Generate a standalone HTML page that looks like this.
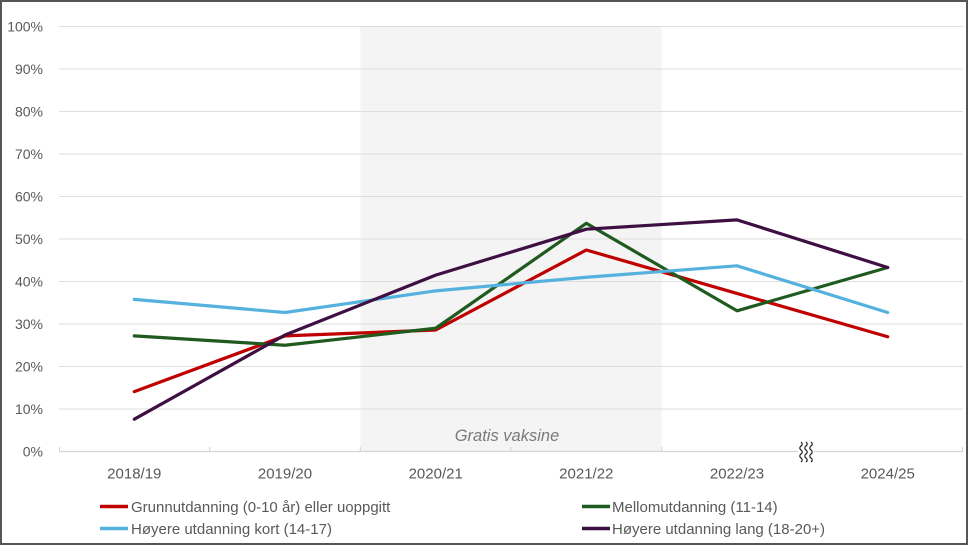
<!DOCTYPE html>
<html><head><meta charset="utf-8"><style>
html,body{margin:0;padding:0;background:#fff;}
svg{display:block;}
text{font-family:"Liberation Sans",sans-serif;fill:#595959;}
</style></head><body>
<svg width="970" height="546" viewBox="0 0 970 546" xmlns="http://www.w3.org/2000/svg">
<rect x="0" y="0" width="970" height="546" fill="#fff"/>
<!-- shaded band -->
<rect x="360.3" y="26.5" width="301.4" height="425" fill="#f4f4f4"/>
<!-- gridlines -->
<g stroke="#dedede" stroke-width="1">
<line x1="59" x2="963" y1="26.5" y2="26.5"/>
<line x1="59" x2="963" y1="69" y2="69"/>
<line x1="59" x2="963" y1="111.5" y2="111.5"/>
<line x1="59" x2="963" y1="154" y2="154"/>
<line x1="59" x2="963" y1="196.5" y2="196.5"/>
<line x1="59" x2="963" y1="239" y2="239"/>
<line x1="59" x2="963" y1="281.5" y2="281.5"/>
<line x1="59" x2="963" y1="324" y2="324"/>
<line x1="59" x2="963" y1="366.5" y2="366.5"/>
<line x1="59" x2="963" y1="409" y2="409"/>
</g>
<line x1="59" x2="963" y1="451.5" y2="451.5" stroke="#d4d4d4" stroke-width="1.2"/>
<g stroke="#d4d4d4" stroke-width="1">
<line x1="59.5" x2="59.5" y1="447" y2="452"/>
<line x1="209.7" x2="209.7" y1="447" y2="452"/>
<line x1="360.3" x2="360.3" y1="447" y2="452"/>
<line x1="511" x2="511" y1="447" y2="452"/>
<line x1="661.7" x2="661.7" y1="447" y2="452"/>
<line x1="962.5" x2="962.5" y1="447" y2="452"/>
</g>
<!-- y labels -->
<g font-size="14" text-anchor="end">
<text x="43" y="31.5">100%</text>
<text x="43" y="74">90%</text>
<text x="43" y="116.5">80%</text>
<text x="43" y="159">70%</text>
<text x="43" y="201.5">60%</text>
<text x="43" y="244">50%</text>
<text x="43" y="286.5">40%</text>
<text x="43" y="329">30%</text>
<text x="43" y="371.5">20%</text>
<text x="43" y="414">10%</text>
<text x="43" y="456.5">0%</text>
</g>
<!-- x labels -->
<g font-size="15" text-anchor="middle">
<text x="134.3" y="478.5">2018/19</text>
<text x="285" y="478.5">2019/20</text>
<text x="435.7" y="478.5">2020/21</text>
<text x="586.3" y="478.5">2021/22</text>
<text x="737" y="478.5">2022/23</text>
<text x="887.7" y="478.5">2024/25</text>
</g>
<text x="507" y="441" font-size="16.5" font-style="italic" text-anchor="middle" style="fill:#7a7a7a">Gratis vaksine</text>
<!-- axis break squiggle -->
<rect x="798" y="446" width="16" height="10" fill="#fff"/>
<g fill="none" stroke="#222" stroke-width="1.2">
<path d="M801 442 q2.5 2 0 4 t0 4 t0 4 t0 4 t0 4"/>
<path d="M806 442 q2.5 2 0 4 t0 4 t0 4 t0 4 t0 4"/>
<path d="M811 442 q2.5 2 0 4 t0 4 t0 4 t0 4 t0 4"/>
</g>
<!-- series -->
<g fill="none" stroke-width="3.2" stroke-linejoin="round" stroke-linecap="round">
<polyline stroke="#c00000" points="134.3,391.6 285,335.9 435.7,330 586.3,250 737,293.4 887.7,336.75"/>
<polyline stroke="#1f5a1f" points="134.3,335.9 285,345.25 435.7,328.25 586.3,223.3 737,310.8 887.7,267.5"/>
<polyline stroke="#55b1de" points="134.3,299.4 285,312.5 435.7,290.85 586.3,277.25 737,265.8 887.7,312.5"/>
<polyline stroke="#3e0f42" points="134.3,419.2 285,335 435.7,275.1 586.3,229.2 737,219.9 887.7,267.5"/>
</g>
<!-- legend -->
<g stroke-width="3.5">
<line x1="100" x2="128" y1="506.5" y2="506.5" stroke="#c00000"/>
<line x1="100" x2="128" y1="528.5" y2="528.5" stroke="#55b1de"/>
<line x1="582" x2="610" y1="506.5" y2="506.5" stroke="#1f5a1f"/>
<line x1="582" x2="610" y1="528.5" y2="528.5" stroke="#3e0f42"/>
</g>
<g font-size="15">
<text x="131" y="512">Grunnutdanning (0-10 år) eller uoppgitt</text>
<text x="131" y="534">Høyere utdanning kort (14-17)</text>
<text x="612" y="512">Mellomutdanning (11-14)</text>
<text x="612" y="534">Høyere utdanning lang (18-20+)</text>
</g>
<!-- frame -->
<rect x="1" y="1" width="966" height="543" fill="none" stroke="#555" stroke-width="2"/>
</svg>
</body></html>
